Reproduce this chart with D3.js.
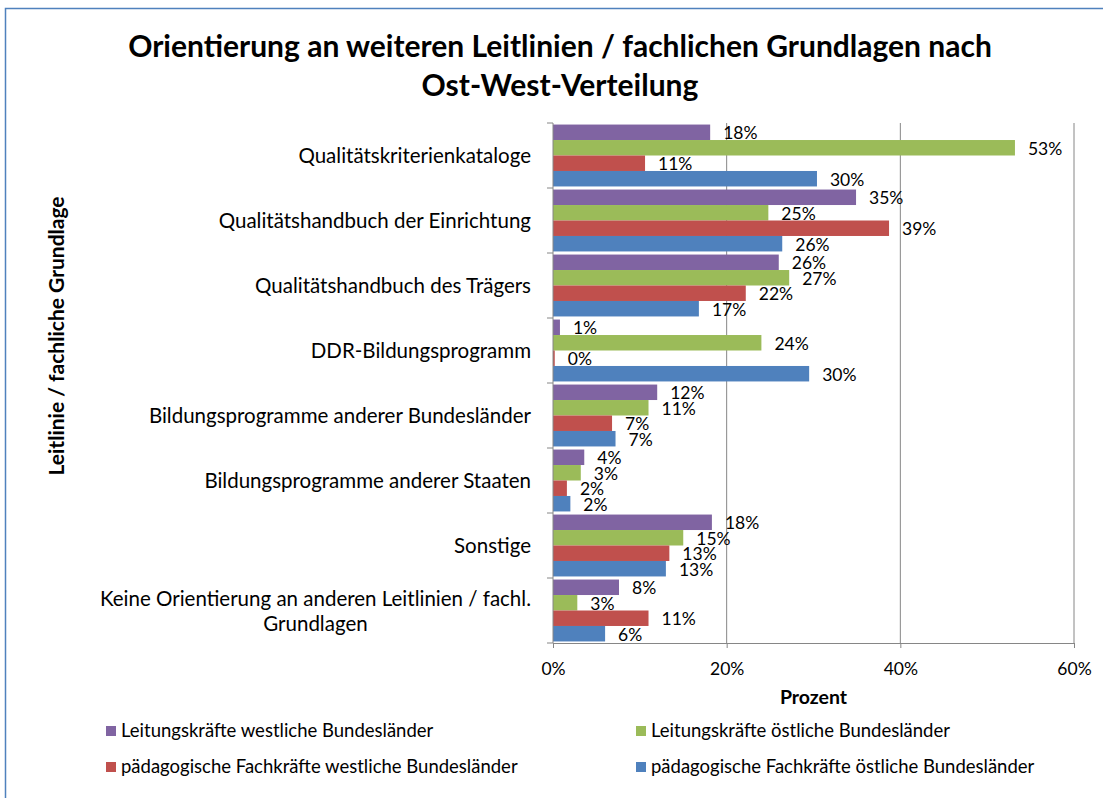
<!DOCTYPE html>
<html>
<head>
<meta charset="utf-8">
<script src="https://cdn.jsdelivr.net/npm/d3@7"></script>
<style>
  body { margin: 0; background: #fff; }
  text { font-family: Lato, "Open Sans", sans-serif; fill: #000; }
</style>
</head>
<body>
<svg id="chart" width="1103" height="798"></svg>
<script>
// Data
const categories = [
  "Qualitätskriterienkataloge",
  "Qualitätshandbuch der Einrichtung",
  "Qualitätshandbuch des Trägers",
  "DDR-Bildungsprogramm",
  "Bildungsprogramme anderer Bundesländer",
  "Bildungsprogramme anderer Staaten",
  "Sonstige",
  "Keine Orientierung an anderen Leitlinien / fachl. Grundlagen"
];
const seriesNames = [
  "Leitungskräfte westliche Bundesländer",
  "Leitungskräfte östliche Bundesländer",
  "pädagogische Fachkräfte westliche Bundesländer",
  "pädagogische Fachkräfte östliche Bundesländer"
];
const leitungWest = [0.181, 0.349, 0.260, 0.008, 0.120, 0.036, 0.183, 0.076];
const leitungOst  = [0.532, 0.248, 0.272, 0.240, 0.110, 0.032, 0.150, 0.028];
const fachWest    = [0.106, 0.387, 0.222, 0.002, 0.068, 0.016, 0.134, 0.110];
const fachOst     = [0.304, 0.264, 0.168, 0.295, 0.072, 0.020, 0.130, 0.060];
const xTicks = [0, 0.2, 0.4, 0.6];

const seriesValues = [leitungWest, leitungOst, fachWest, fachOst];
const colors = ["#8064A2", "#9BBB59", "#C0504D", "#4F81BD"];

const svg = d3.select("#chart");

// Chart border
svg.append("rect")
  .attr("x", 5.5).attr("y", 8.5)
  .attr("width", 1110).attr("height", 800)
  .attr("fill", "none")
  .attr("stroke", "#4F81BD")
  .attr("stroke-width", 1.5);

// Title
svg.append("text")
  .attr("x", 560).attr("y", 57)
  .attr("text-anchor", "middle")
  .style("font-size", "30px").style("font-weight", "bold")
  .text("Orientierung an weiteren Leitlinien / fachlichen Grundlagen nach");
svg.append("text")
  .attr("x", 560).attr("y", 96)
  .attr("text-anchor", "middle")
  .style("font-size", "30px").style("font-weight", "bold")
  .text("Ost-West-Verteilung");

// Scales
const plotLeft = 553, plotRight = 1074, plotTop = 123, plotBottom = 643;
const x = d3.scaleLinear().domain([0, 0.6]).range([plotLeft, plotRight]);
const y = d3.scaleBand().domain(categories).range([plotTop, plotBottom]);
const ySub = d3.scaleBand().domain(d3.range(4)).range([0, y.bandwidth()]).paddingOuter(0.1).paddingInner(0);

// Gridlines
svg.append("g").selectAll("line")
  .data(xTicks.slice(1))
  .join("line")
  .attr("x1", d => x(d)).attr("x2", d => x(d))
  .attr("y1", plotTop).attr("y2", plotBottom)
  .attr("stroke", "#868686").attr("stroke-width", 1);

// Bars
const rows = [];
categories.forEach((c, i) => {
  seriesValues.forEach((vals, s) => rows.push({ cat: c, s: s, v: vals[i] }));
});

svg.append("g").selectAll("rect")
  .data(rows)
  .join("rect")
  .attr("x", x(0))
  .attr("y", d => y(d.cat) + ySub(d.s))
  .attr("width", d => x(d.v) - x(0))
  .attr("height", ySub.bandwidth())
  .attr("fill", d => colors[d.s]);

// Value labels
svg.append("g").selectAll("text")
  .data(rows)
  .join("text")
  .attr("x", d => x(d.v) + 13)
  .attr("y", d => y(d.cat) + ySub(d.s) + ySub.bandwidth() / 2 + 1)
  .attr("dy", "0.35em")
  .style("font-size", "17.5px")
  .text(d => Math.round(d.v * 100) + "%");

// X axis
const xAxis = svg.append("g")
  .attr("transform", `translate(0,${plotBottom})`)
  .call(d3.axisBottom(x).tickValues(xTicks).tickFormat(d3.format(".0%")).tickSize(5).tickPadding(15));
xAxis.select(".domain").attr("stroke", "#868686");
xAxis.selectAll(".tick line").attr("stroke", "#868686");
xAxis.selectAll(".tick text").style("font-size", "17.5px").style("font-family", "Lato, sans-serif").attr("fill", "#000");

// Y axis (ticks at band boundaries)
svg.append("line")
  .attr("x1", plotLeft).attr("x2", plotLeft).attr("y1", plotTop).attr("y2", plotBottom)
  .attr("stroke", "#868686");
svg.append("g").selectAll("line")
  .data(d3.range(categories.length + 1))
  .join("line")
  .attr("x1", plotLeft - 6).attr("x2", plotLeft)
  .attr("y1", i => plotTop + i * y.bandwidth()).attr("y2", i => plotTop + i * y.bandwidth())
  .attr("stroke", "#868686");

// Category labels
const catG = svg.append("g");
categories.forEach(c => {
  const cy = y(c) + y.bandwidth() / 2;
  if (c.startsWith("Keine")) {
    const t1 = catG.append("text")
      .attr("x", 531).attr("y", cy - 12).attr("dy", "0.35em")
      .attr("text-anchor", "end").style("font-size", "20.5px")
      .text("Keine Orientierung an anderen Leitlinien / fachl.");
    const w = t1.node().getComputedTextLength();
    catG.append("text")
      .attr("x", 531 - w / 2).attr("y", cy + 13).attr("dy", "0.35em")
      .attr("text-anchor", "middle").style("font-size", "20.5px")
      .text("Grundlagen");
  } else {
    catG.append("text")
      .attr("x", 531).attr("y", cy).attr("dy", "0.35em")
      .attr("text-anchor", "end").style("font-size", "20.5px")
      .text(c);
  }
});

// Axis titles
svg.append("text")
  .attr("x", (plotLeft + plotRight) / 2).attr("y", 697).attr("dy", "0.35em")
  .attr("text-anchor", "middle")
  .style("font-size", "19.5px").style("font-weight", "bold")
  .text("Prozent");
svg.append("text")
  .attr("transform", "translate(57,336) rotate(-90)")
  .attr("dy", "0.35em")
  .attr("text-anchor", "middle")
  .style("font-size", "21px").style("font-weight", "bold")
  .text("Leitlinie /  fachliche Grundlage");

// Legend
const legendPos = [[106, 731], [636, 731], [106, 767], [636, 767]];
const legend = svg.append("g").selectAll("g")
  .data(seriesNames)
  .join("g")
  .attr("transform", (d, i) => `translate(${legendPos[i][0]},${legendPos[i][1]})`);
legend.append("rect")
  .attr("x", 0).attr("y", -5).attr("width", 10).attr("height", 10)
  .attr("fill", (d, i) => colors[i]);
legend.append("text")
  .attr("x", 15).attr("dy", "0.35em")
  .style("font-size", "18.5px")
  .text(d => d);
</script>
</body>
</html>
